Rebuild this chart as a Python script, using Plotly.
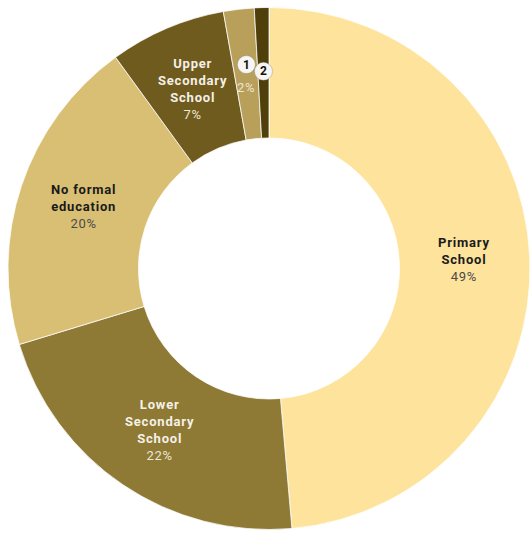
import math
import plotly.graph_objects as go

# Education level shares (percent)
categories = ["Primary School", "Lower Secondary School", "No formal education",
              "Upper Secondary School", "1", "2"]
name_lines = [["Primary", "School"], ["Lower", "Secondary", "School"],
              ["No formal", "education"], ["Upper", "Secondary", "School"], [], []]
values = [48.6, 21.7, 19.7, 7.2, 1.9, 0.9]
badges = ["", "", "", "", "1", "2"]

colors = ["#FDE39C", "#8E7935", "#D9BF74", "#705B1F", "#B8A05A", "#4F3F0A"]
name_colors = ["#1a1a1a", "#F4F1E6", "#1a1a1a", "#F4F1E6", "#F4F1E6", "#F4F1E6"]
pct_colors = ["#4a4a4a", "#ECE6D2", "#4a4a4a", "#ECE6D2", "#ECE6D2", "#ECE6D2"]

W, H = 530, 534
HOLE = 0.5
dom_x = [8 / W, 1.0]
dom_y = [0.0084, 0.986]

fig = go.Figure(go.Pie(
    labels=categories,
    values=values,
    sort=False,
    direction="clockwise",
    rotation=0,
    hole=HOLE,
    marker=dict(colors=colors, line=dict(color="rgba(255,255,255,0.75)", width=1)),
    textinfo="none",
    hoverinfo="label+percent",
    showlegend=False,
    domain=dict(x=dom_x, y=dom_y),
))

# pie geometry in pixels
pw = (dom_x[1] - dom_x[0]) * W
ph = (dom_y[1] - dom_y[0]) * H
R = min(pw, ph) / 2
cx = (dom_x[0] + dom_x[1]) / 2 * W
cy = H - (dom_y[0] + dom_y[1]) / 2 * H  # from top
r_mid = R * (1 + HOLE) / 2 - 0.5

SP = "letter-spacing:0.8px"


def label(x, y, text, size, color):
    return dict(
        x=x / W, y=1 - y / H, xref="paper", yref="paper",
        xanchor="center", yanchor="middle",
        text=text, showarrow=False, align="center",
        font=dict(family="Roboto", size=size, color=color),
    )


total = sum(values)
annotations = []
shapes = []
cum = 0.0
for i, v in enumerate(values):
    mid = (cum + v / 2) / total * 2 * math.pi
    cum += v
    px = cx + r_mid * math.sin(mid)
    py = cy - r_mid * math.cos(mid)
    pct = round(v / total * 100)
    if name_lines[i]:
        txt = "<br>".join(f"<span style='{SP}'><b>{s}</b></span>" for s in name_lines[i])
        txt += f"<br><span style='color:{pct_colors[i]};{SP}'>{pct}%</span>"
        annotations.append(label(px, py, txt, 13, name_colors[i]))
    else:
        # numbered badge, with the share below it when it rounds to 2% or more
        by = py - 10 if pct >= 2 else py - 2
        bx = px
        shapes.append(dict(
            type="circle", xref="paper", yref="paper",
            xsizemode="pixel", ysizemode="pixel",
            xanchor=bx / W, yanchor=1 - by / H,
            x0=-9, x1=9, y0=-9, y1=9,
            fillcolor="#F7F6F2", line=dict(color="rgba(120,120,120,0.35)", width=1),
        ))
        annotations.append(label(bx, by, f"<b>{badges[i]}</b>", 12, "#111111"))
        if pct >= 2:
            annotations.append(label(px, py + 13, f"<span style='{SP}'>{pct}%</span>",
                                     13, pct_colors[i]))

fig.update_layout(
    width=W, height=H,
    margin=dict(l=0, r=0, t=0, b=0),
    paper_bgcolor="white",
    plot_bgcolor="white",
    annotations=annotations,
    shapes=shapes,
)

fig.write_html("out.html")
